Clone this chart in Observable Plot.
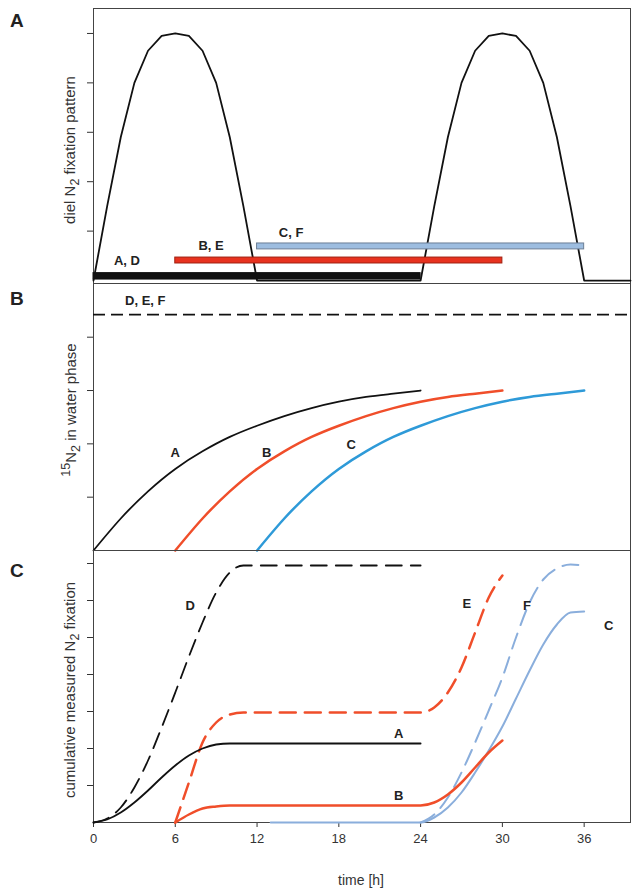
<!DOCTYPE html>
<html><head><meta charset="utf-8">
<script src="https://cdn.jsdelivr.net/npm/d3@7"></script>
<script src="https://cdn.jsdelivr.net/npm/@observablehq/plot@0.6"></script>
<style>
body{margin:0;background:#fff;font-family:"Liberation Sans",Arial,sans-serif;}
#wrap{position:relative;width:633px;height:896px;}
#wrap svg{position:absolute;left:0;overflow:visible;}
.pl{position:absolute;font-size:19px;font-weight:bold;color:#222;}
.yl{position:absolute;font-size:15px;color:#333;white-space:nowrap;transform:translate(-50%,-50%) rotate(-90deg);}
</style></head><body><div id="wrap"></div>
<script>
// ---- data ----
const xTicks = [0,6,12,18,24,30,36];
// Panel A: diel pattern (relative)
const dielHours = [0,1,2,3,4,5,6,7,8,9,10,11,12,24,25,26,27,28,29,30,31,32,33,34,35,36,39.4];
const dielVals  = [0,0.3,0.58,0.8,0.93,0.99,1,0.99,0.93,0.8,0.58,0.3,0,0,0.3,0.58,0.8,0.93,0.99,1,0.99,0.93,0.8,0.58,0.3,0,0];
const incubations = [
  {name:"A, D", start:0,  end:24, color:"#111", stroke:"#111", y1:0.004, y2:0.03, lx:1.5, ly:0.081},
  {name:"B, E", start:6,  end:30, color:"#e8321f", stroke:"#a02010", y1:0.069, y2:0.093, lx:7.7, ly:0.142},
  {name:"C, F", start:12, end:36, color:"#9dbde0", stroke:"#6d7f95", y1:0.126, y2:0.15, lx:13.6, ly:0.194}
];
// Panel B: 15N2 in water phase
const uptakeHours = [0,2,4,6,8,10,12,14,16,18,20,22,24];
const uptakeVals  = [0,0.2,0.37,0.51,0.62,0.71,0.78,0.84,0.89,0.93,0.96,0.98,1.0];
const seriesB = [{name:"A",offset:0,color:"#111"},{name:"B",offset:6,color:"#f04e2a"},{name:"C",offset:12,color:"#2e9ad8"}];
const dashLevel = 1.475;
const labelsB = [{t:"D, E, F",x:3.8,y:1.56},{t:"A",x:6,y:0.61},{t:"B",x:12.7,y:0.61},{t:"C",x:18.9,y:0.66}];
// Panel C: cumulative measured fixation
const hD = [0,1,2,3,4,5,6,7,8,9,10,11,24];
const vD = [0,4,15,35,62,95,130,166,200,230,250,257,257];
const hA = [0,1,2,3,4,5,6,7,8,9,10,11,24];
const vA = [0,3,10,20,32,45,57,67,74,78,79,79,79];
const hE = [6,7,8,9,10,11,24,25,26,27,28,29,30];
const vE = [0,40,80,100,108,110,110,115,130,155,190,225,247];
const hB = [6,7,8,9,10,24,25,26,27,28,29,30];
const vB = [0,8,14,16,17,17,20,28,40,55,70,82];
const hF = [24,25,26,27,28,29,30,31,32,33,34,35,36];
const vF = [0,8,25,50,80,112,145,185,220,243,254,258,257];
const hC = [13,24,25,26,27,28,29,30,31,32,33,34,35,36];
const vC = [0,0,5,15,30,50,72,96,124,152,178,198,210,211];
const labelsC = [{t:"D",x:7.1,y:217},{t:"A",x:22.4,y:89},{t:"B",x:22.4,y:27},{t:"E",x:27.4,y:219},{t:"F",x:31.8,y:217},{t:"C",x:37.8,y:197}];

const toPts = (h,v,off=0)=>h.map((t,i)=>({x:t+off,y:v[i]}));
const xDom=[0,39.4], W=633, ML=93, MR=3;
const wrap=document.getElementById("wrap");
function place(svg,top){svg.style.top=top+"px";wrap.appendChild(svg);}
const txt={fontSize:13,fontWeight:"bold",fill:"#222",textAnchor:"middle",fontFamily:"Liberation Sans, Arial, sans-serif"};
const yAx = ticks=>Plot.axisY({ticks,tickFormat:()=>"",tickSize:6,stroke:"#333",label:null});

// Panel A
place(Plot.plot({width:W,height:283,marginLeft:ML,marginRight:MR,marginTop:8,marginBottom:0,
  x:{domain:xDom,axis:null},y:{domain:[-0.012,1.101],axis:null},
  marks:[
    yAx([0.2,0.4,0.6,0.8,1]),
    Plot.frame({stroke:"#444"}),
    Plot.line(toPts(dielHours,dielVals),{x:"x",y:"y",stroke:"#111",strokeWidth:1.8}),
    Plot.rect(incubations,{x1:"start",x2:"end",y1:"y1",y2:"y2",fill:"color",stroke:"stroke",strokeWidth:1}),
    Plot.text(incubations,{x:"lx",y:"ly",text:"name",...txt,textAnchor:"start"})
  ]}),0);

// Panel B
place(Plot.plot({width:W,height:267,marginLeft:ML,marginRight:MR,marginTop:0,marginBottom:0,
  x:{domain:xDom,axis:null},y:{domain:[0,1.669],axis:null},
  marks:[
    yAx([1/3,2/3,1,4/3]),
    Plot.frame({stroke:"#444"}),
    Plot.ruleY([dashLevel],{stroke:"#111",strokeWidth:1.8,strokeDasharray:"12,6"}),
    ...seriesB.map(s=>Plot.line(toPts(uptakeHours,uptakeVals,s.offset),{x:"x",y:"y",stroke:s.color,strokeWidth:s.name==="A"?1.8:2.5,curve:"natural"})),
    Plot.text(labelsB,{x:"x",y:"y",text:"t",...txt})
  ]}),283);

// Panel C
const red="#f04e2a", blue="#8aaedc", dash="16,9";
place(Plot.plot({width:W,height:346,marginLeft:ML,marginRight:MR,marginTop:0,marginBottom:74,
  style:{fontSize:"13px",fontFamily:"Liberation Sans, Arial, sans-serif",color:"#333"},
  x:{domain:xDom,ticks:xTicks,tickSize:5,tickPadding:6,label:null},
  y:{domain:[0,272],axis:null},
  marks:[
    yAx([37,74,111,148,185,222,259]),
    Plot.frame({stroke:"#444"}),
    Plot.line(toPts(hC,vC),{x:"x",y:"y",stroke:blue,strokeWidth:2,curve:"monotone-x"}),
    Plot.line(toPts(hF,vF),{x:"x",y:"y",stroke:blue,strokeWidth:2,strokeDasharray:dash,curve:"monotone-x"}),
    Plot.line(toPts(hB,vB),{x:"x",y:"y",stroke:red,strokeWidth:2.5,curve:"monotone-x"}),
    Plot.line(toPts(hE,vE),{x:"x",y:"y",stroke:red,strokeWidth:2.5,strokeDasharray:dash,curve:"monotone-x"}),
    Plot.line(toPts(hA,vA),{x:"x",y:"y",stroke:"#111",strokeWidth:1.8,curve:"monotone-x"}),
    Plot.line(toPts(hD,vD),{x:"x",y:"y",stroke:"#111",strokeWidth:1.8,strokeDasharray:dash,curve:"monotone-x"}),
    Plot.text(labelsC,{x:"x",y:"y",text:"t",...txt})
  ]}),550);

// panel letters, axis labels
[["A",10,10],["B",10,288],["C",10,560]].forEach(([t,l,tp])=>{const d=document.createElement("div");d.className="pl";d.textContent=t;d.style.left=l+"px";d.style.top=tp+"px";wrap.appendChild(d);});
[["diel N<sub>2</sub> fixation pattern",71,150],["<sup>15</sup>N<sub>2</sub> in water phase",71,410],["cumulative measured N<sub>2</sub> fixation",71,690]].forEach(([h,x,y])=>{const d=document.createElement("div");d.className="yl";d.innerHTML=h;d.style.left=x+"px";d.style.top=y+"px";wrap.appendChild(d);});
const xl=document.createElement("div");xl.textContent="time [h]";xl.style.cssText="position:absolute;left:361px;top:872px;transform:translateX(-50%);font-size:14px;color:#333;";wrap.appendChild(xl);
</script></body></html>
